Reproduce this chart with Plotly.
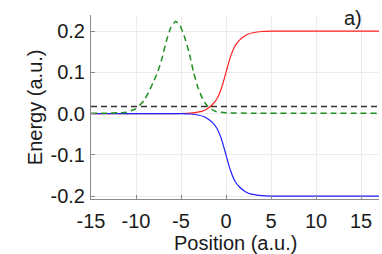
import plotly.graph_objects as go

# Data
x_band = [-15, -10, -6, -5, -4, -3, -2.5, -2, -1.5, -1, -0.5, 0, 0.5, 1, 1.5, 2, 2.5, 3, 4, 5, 6, 8, 10, 17]
upper_band = [0, 0, 0, 0.0002, 0.001, 0.004, 0.007, 0.013, 0.022, 0.036, 0.062, 0.1,
              0.138, 0.164, 0.178, 0.187, 0.193, 0.196, 0.199, 0.2, 0.2, 0.2, 0.2, 0.2]
lower_band = [0, 0, 0, -0.0002, -0.001, -0.004, -0.007, -0.013, -0.022, -0.036, -0.062, -0.1,
              -0.138, -0.164, -0.178, -0.187, -0.193, -0.196, -0.199, -0.2, -0.2, -0.2, -0.2, -0.2]

x_state = [-15, -13, -12, -11.1, -10.1, -9.6, -9.1, -8.6, -8.1, -7.6, -7.1, -6.6, -6.1, -5.6,
           -5.1, -4.6, -4.1, -3.6, -3.1, -2.6, -2.1, -1.6, -1.1, -0.1, 3, 17]
state = [0.001, 0.001, 0.002, 0.003, 0.011, 0.02, 0.032, 0.052, 0.075, 0.1, 0.135, 0.178, 0.21, 0.224,
         0.213, 0.185, 0.148, 0.1, 0.062, 0.036, 0.019, 0.01, 0.005, 0.002, 0.001, 0.001]

x_level = [-15, 17]
level = [0.017, 0.017]

x_ticks = [-15, -10, -5, 0, 5, 10, 15]
x_tick_text = ["-15", "-10", "-5", "0", "5", "10", "15"]
y_ticks = [-0.2, -0.1, 0.0, 0.1, 0.2]
y_tick_text = ["-0.2", "-0.1", "0.0", "0.1", "0.2"]

FONT = "Liberation Sans, Arial, sans-serif"
TXT = "#1a1a1a"

fig = go.Figure()
fig.add_trace(go.Scatter(x=x_band, y=upper_band, mode="lines", line=dict(color="#ff2020", width=1.2, shape="spline", smoothing=0.6)))
fig.add_trace(go.Scatter(x=x_band, y=lower_band, mode="lines", line=dict(color="#2020ff", width=1.2, shape="spline", smoothing=0.6)))
fig.add_trace(go.Scatter(x=x_level, y=level, mode="lines", line=dict(color="#333333", width=1.5, dash="6px,4px")))
fig.add_trace(go.Scatter(x=x_state, y=state, mode="lines", line=dict(color="#1f8f1f", width=1.5, dash="6px,4px", shape="spline", smoothing=0.4)))

axis_common = dict(
    showgrid=True, gridcolor="#ececec", gridwidth=1,
    zeroline=False, showline=True, linecolor="#8a8a8a", linewidth=1,
    ticks="inside", ticklen=4, tickcolor="#8a8a8a",
    tickfont=dict(family=FONT, size=20, color=TXT),
    mirror=False, automargin=False,
)

fig.update_layout(
    width=382, height=254,
    margin=dict(l=91, r=3, t=15, b=55),
    paper_bgcolor="white", plot_bgcolor="white",
    showlegend=False,
    font=dict(family=FONT, color=TXT),
    xaxis=dict(range=[-15, 17], tickvals=x_ticks, ticktext=x_tick_text, ticklabelstandoff=4, **axis_common),
    yaxis=dict(range=[-0.207, 0.239], tickvals=y_ticks, ticktext=y_tick_text, ticklabelstandoff=1, **axis_common),
    annotations=[
        dict(text="a)", xref="paper", yref="paper", x=0.908, y=0.984, xanchor="center", yanchor="middle",
             showarrow=False, font=dict(family=FONT, size=20, color=TXT)),
        dict(text="Position (a.u.)", xref="paper", yref="paper", x=0.5, y=-0.24, xanchor="center", yanchor="middle",
             showarrow=False, font=dict(family=FONT, size=20, color=TXT)),
        dict(text="Energy (a.u.)", xref="paper", yref="paper", x=-0.194, y=0.5, xanchor="center", yanchor="middle",
             textangle=-90, showarrow=False, font=dict(family=FONT, size=20, color=TXT)),
    ],
)

fig.write_html("out.html", config={"displayModeBar": False},
               post_script="document.body.style.margin='0';document.body.style.overflow='hidden';")
